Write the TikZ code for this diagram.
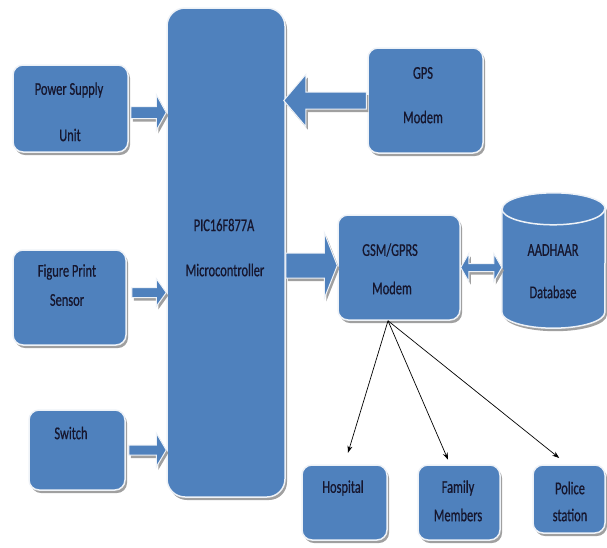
\documentclass[tikz,border=0pt]{standalone}
\usepackage{fontspec}
\setmainfont{Carlito}[FakeStretch=0.69,FakeBold=0.6]
\usetikzlibrary{calc,arrows.meta}
\definecolor{boxblue}{HTML}{4F81BD}
\definecolor{txtc}{HTML}{16162E}
\definecolor{shad}{HTML}{A0A0A0}
\definecolor{rim}{HTML}{EEF2F7}
\tikzset{
  shadowed/.style={preaction={fill=shad, draw=none, transform canvas={xshift=2pt,yshift=-3pt}}},
  box/.style={shadowed, draw=rim, line width=1.5pt, fill=boxblue, rounded corners=10pt, inner sep=0pt},
  txt/.style={text=txtc, font=\fontsize{18}{20}\selectfont, inner sep=0pt},
  barrow/.style={shadowed, fill=boxblue, draw=rim, line width=1pt},
  thinarrow/.style={-{Stealth[length=7pt,width=5pt]}, line width=0.7pt, black},
}
% start, end, shaft half, head half, head length (signed)
\newcommand{\blockarrow}[5]{%
  \path[barrow] let \p1=(#1), \p2=(#2) in
    (\x1,\y1+#3) -- (\x2-#5,\y1+#3) -- (\x2-#5,\y1+#4) -- (\x2,\y1) --
    (\x2-#5,\y1-#4) -- (\x2-#5,\y1-#3) -- (\x1,\y1-#3) -- cycle;}
\begin{document}
\begin{tikzpicture}[x=1pt,y=-1pt]
\useasboundingbox (0,0) rectangle (607,547);
% boxes
\node[box, minimum width=115pt, minimum height=87pt] (psu) at (70.5,108.5) {};
\node[box, rounded corners=18pt, minimum width=118pt, minimum height=489pt] (mcu) at (226,252.5) {};
\node[box, minimum width=115pt, minimum height=105pt] (gps) at (425.5,100.5) {};
\node[box, minimum width=113pt, minimum height=95pt] (fps) at (69.5,297.5) {};
\node[box, minimum width=96pt, minimum height=80pt] (sw) at (77,450) {};
\node[box, minimum width=122pt, minimum height=105pt] (gsm) at (399,267.5) {};
\node[box, minimum width=85pt, minimum height=75pt] (hosp) at (344.5,502.5) {};
\node[box, minimum width=82pt, minimum height=75pt] (fam) at (459,502.5) {};
\node[box, minimum width=72pt, minimum height=68pt] (pol) at (569,499) {};
% database cylinder
\node[minimum width=103pt, minimum height=135pt, inner sep=0pt] (db) at (553.5,260.5) {};
\path[shadowed, fill=boxblue, draw=rim, line width=1.5pt]
  ($(db.north west)+(0,16)$) -- ($(db.south west)+(0,-16)$)
  arc[start angle=180, end angle=360, x radius=51.5pt, y radius=16pt]
  -- ($(db.north east)+(0,16)$)
  arc[start angle=0, end angle=180, x radius=51.5pt, y radius=16pt] -- cycle;
\draw[rim, line width=1.5pt] ($(db.north west)+(0,16)$)
  arc[start angle=180, end angle=360, x radius=51.5pt, y radius=16pt];
% texts
\node[txt] at (69,90) {Power Supply};
\node[txt] at (70,135) {Unit};
\node[txt] at (423,73) {GPS};
\node[txt] at (423,117) {Modem};
\node[txt] at (224,225) {PIC16F877A};
\node[txt] at (225,270) {Microcontroller};
\node[txt] at (67,272) {Figure Print};
\node[txt] at (67,300) {Sensor};
\node[txt] at (71,433) {Switch};
\node[txt] at (390,250) {GSM/GPRS};
\node[txt] at (392,288) {Modem};
\node[txt] at (553,250) {AADHAAR};
\node[txt] at (553,292) {Database};
\node[txt] at (343,488) {Hospital};
\node[txt] at (458,488) {Family};
\node[txt] at (458,515) {Members};
\node[txt] at (570,488) {Police};
\node[txt] at (570,515) {station};
% block arrows
\blockarrow{$(psu.east)+(2,4)$}{mcu.west|-psu.east}{6pt}{18pt}{10pt}
\blockarrow{$(fps.east)+(5,-5)$}{mcu.west|-fps.east}{5pt}{14pt}{10pt}
\blockarrow{$(sw.east)+(3,0)$}{mcu.west|-sw.east}{5pt}{17pt}{10pt}
\blockarrow{$(gps.west)+(-1,0)$}{$(mcu.east|-gps.west)+(-2,0)$}{8.5pt}{26pt}{-22pt}
\blockarrow{$(mcu.east|-gsm.west)+(0,-2)$}{gsm.west}{12.5pt}{33pt}{13pt}
% double arrow
\path[barrow] let \p1=(gsm.east), \p2=(db.west) in
  (\x1,\y1) -- (\x1+8pt,\y1+14pt) -- (\x1+8pt,\y1+4pt) -- (\x2-8pt,\y1+4pt) --
  (\x2-8pt,\y1+14pt) -- (\x2,\y1) -- (\x2-8pt,\y1-14pt) -- (\x2-8pt,\y1-4pt) --
  (\x1+8pt,\y1-4pt) -- (\x1+8pt,\y1-14pt) -- cycle;
% thin arrows
\coordinate (gsmo) at ($(gsm.south)+(-11,0)$);
\draw[thinarrow, shorten >=12pt] (gsmo) -- (hosp.north);
\draw[thinarrow, shorten >=5pt] (gsmo) -- ($(fam.north)+(-9,0)$);
\draw[thinarrow, shorten >=10pt] (gsmo) -- ($(pol.north)+(-2,0)$);
\end{tikzpicture}
\end{document}
